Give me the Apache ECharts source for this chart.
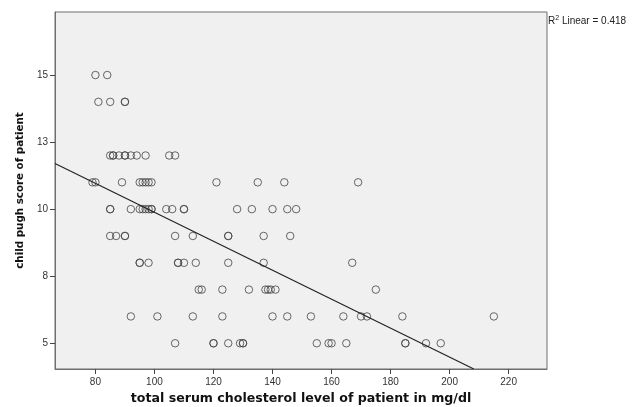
<!DOCTYPE html>
<html><head><meta charset="utf-8">
<script src="https://cdn.jsdelivr.net/npm/echarts@6/dist/echarts.min.js"></script>
<style>html,body{margin:0;padding:0;background:#fff}#c{width:634px;height:407px}</style>
</head><body><div id="c"></div>
<script>
// Child Pugh score (y) vs total serum cholesterol (x)
const row15 = [80, 84];
const row14 = [81, 85, 90, 90];
const row12 = [85, 86, 86, 88, 90, 90, 92, 94, 97, 105, 107];
const row11 = [79, 80, 89, 95, 96, 97, 98, 99, 121, 135, 144, 169];
const row10 = [85, 85, 92, 95, 96, 97, 98, 99, 99, 104, 106, 110, 110, 128, 133, 140, 145, 148];
const row9  = [85, 87, 90, 90, 107, 113, 125, 125, 137, 146];
const row8  = [95, 95, 98, 108, 108, 110, 114, 125, 137, 167];
const row7  = [115, 116, 123, 132, 137.6, 138.5, 139.4, 141, 175];
const row6  = [92, 101, 113, 123, 140, 145, 153, 164, 170, 172, 184, 215];
const row5  = [107, 120, 120, 125, 129, 130, 130, 155, 159, 160, 165, 185, 185, 192, 197];
const rows = {15: row15, 14: row14, 12: row12, 11: row11, 10: row10, 9: row9, 8: row8, 7: row7, 6: row6, 5: row5};
// fitted line endpoints
const fitX = [66.3, 208.2];
const fitY = [11.70, 4.04];
const xTicks = [80, 100, 120, 140, 160, 180, 200, 220];
const yTicks = [5, 7.5, 10, 12.5, 15];

const points = [];
Object.keys(rows).forEach(k => rows[k].forEach(x => points.push([x, Number(k)])));
const fitData = fitX.map((x, i) => [x, fitY[i]]);

const chart = echarts.init(document.getElementById('c'));
chart.setOption({
  animation: false,
  grid: {left: 55, right: 87, top: 12, bottom: 38, show: true, outerBoundsMode: 'none', containLabel: false,
         backgroundColor: '#f0f0f0', borderColor: '#6e6e6e', borderWidth: 1},
  xAxis: {
    type: 'value', min: 66.3, max: 233,
    name: 'total serum cholesterol level of patient in mg/dl',
    nameLocation: 'middle', nameGap: 22,
    nameTextStyle: {fontFamily: 'DejaVu Sans', fontWeight: 'bold', fontSize: 12.6, color: '#111'},
    axisLine: {show: true, lineStyle: {color: '#6e6e6e'}},
    axisTick: {show: true, length: 5, customValues: xTicks, lineStyle: {color: '#444'}},
    axisLabel: {customValues: xTicks, margin: 8, fontFamily: 'Liberation Sans', fontSize: 10, color: '#333'},
    splitLine: {show: false}
  },
  yAxis: {
    type: 'value', min: 4.04, max: 17.35,
    name: 'child pugh score of patient',
    nameLocation: 'middle', nameGap: 30, nameRotate: 90,
    nameTextStyle: {fontFamily: 'DejaVu Sans', fontWeight: 'bold', fontSize: 10.3, color: '#111'},
    axisLine: {show: true, lineStyle: {color: '#6e6e6e'}},
    axisTick: {show: true, length: 5, customValues: yTicks, lineStyle: {color: '#444'}},
    axisLabel: {customValues: yTicks, margin: 7, fontFamily: 'Liberation Sans', fontSize: 10, color: '#333',
      formatter: v => String(Math.round(v))},
    splitLine: {show: false}
  },
  graphic: [{
    type: 'text', left: 548, top: 15,
    style: {text: '{r|R}{s|2}{r| Linear = 0.418}', rich: {
      r: {fontFamily: 'Liberation Sans', fontSize: 10, fill: '#222', verticalAlign: 'bottom'},
      s: {fontFamily: 'Liberation Sans', fontSize: 7, fill: '#222', verticalAlign: 'top', padding: [0,0,4,0]}
    }}
  }],
  series: [
    {type: 'scatter', data: points, symbol: 'circle', symbolSize: 7.5, silent: true,
     itemStyle: {color: 'rgba(0,0,0,0)', borderColor: '#444', borderWidth: 1}},
    {type: 'line', data: fitData, showSymbol: false, silent: true,
     lineStyle: {color: '#222', width: 1.2}}
  ]
});
</script></body></html>
